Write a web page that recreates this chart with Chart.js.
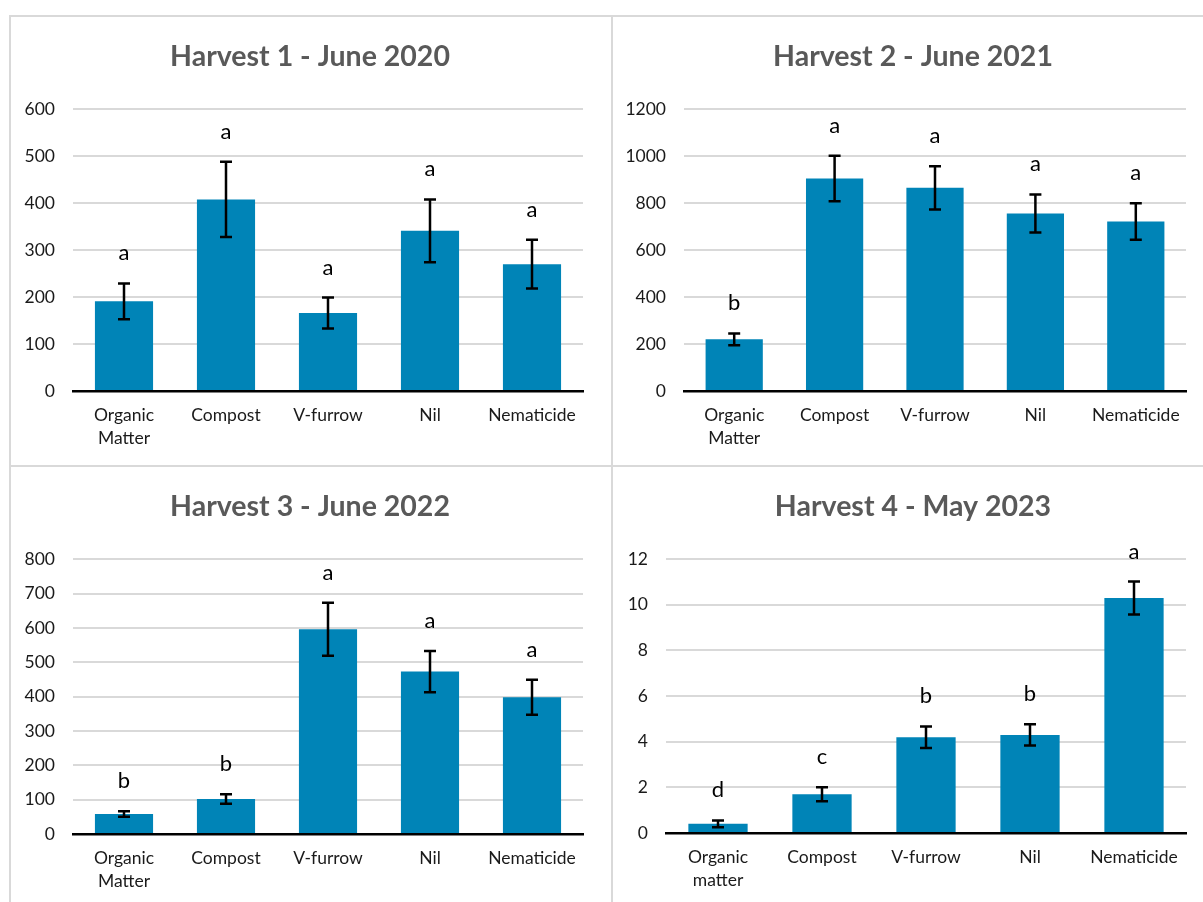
<!DOCTYPE html>
<html>
<head>
<meta charset="utf-8">
<script src="https://cdn.jsdelivr.net/npm/chart.js@4/dist/chart.umd.min.js"></script>
<style>
html,body{margin:0;padding:0;background:#fff;width:1203px;height:902px;overflow:hidden;position:relative;}
canvas{position:absolute;display:block;}
.ln{position:absolute;background:#d9d9d9;}
</style>
</head>
<body>
<canvas id="c1" width="611" height="466" style="left:0;top:0"></canvas>
<canvas id="c2" width="604" height="466" style="left:611px;top:0"></canvas>
<canvas id="c3" width="611" height="443" style="left:0;top:466px"></canvas>
<canvas id="c4" width="604" height="443" style="left:611px;top:466px"></canvas>
<div class="ln" style="left:9px;top:15px;width:1194px;height:2px"></div>
<div class="ln" style="left:9px;top:15px;width:2px;height:887px"></div>
<div class="ln" style="left:611px;top:15px;width:2px;height:887px"></div>
<div class="ln" style="left:9px;top:465px;width:1194px;height:2px"></div>
<script>
// ---- data ----
const categoriesA = [['Organic', 'Matter'], 'Compost', 'V-furrow', 'Nil', 'Nematicide'];
const categoriesB = [['Organic', 'matter'], 'Compost', 'V-furrow', 'Nil', 'Nematicide'];

const title1 = 'Harvest 1 - June 2020';
const values1 = [191, 408, 166, 341, 270];
const errors1 = [38, 80, 33, 67, 52];
const letters1 = ['a', 'a', 'a', 'a', 'a'];
const ticks1 = {max: 600, step: 100};

const title2 = 'Harvest 2 - June 2021';
const values2 = [220, 905, 865, 756, 722];
const errors2 = [25, 97, 92, 81, 78];
const letters2 = ['b', 'a', 'a', 'a', 'a'];
const ticks2 = {max: 1200, step: 200};

const title3 = 'Harvest 3 - June 2022';
const values3 = [58, 102, 596, 473, 398];
const errors3 = [8, 14, 77, 60, 51];
const letters3 = ['b', 'b', 'a', 'a', 'a'];
const ticks3 = {max: 800, step: 100};

const title4 = 'Harvest 4 - May 2023';
const values4 = [0.4, 1.7, 4.2, 4.3, 10.3];
const errors4 = [0.15, 0.31, 0.47, 0.47, 0.72];
const letters4 = ['d', 'c', 'b', 'b', 'a'];
const ticks4 = {max: 12, step: 2};

// ---- style ----
const FONT = 'Lato, "Open Sans", sans-serif';
const BAR = '#0084B7';

const errBars = {
  id: 'errBars',
  afterLayout(chart, args, opts) {
    // centre the title over the whole panel rather than the padded area
    const t = chart.titleBlock;
    if (t) { t.left = opts.titleLeft; t.right = chart.width; t.width = t.right - t.left; }
  },
  afterDatasetsDraw(chart, args, opts) {
    const ctx = chart.ctx;
    const xs = chart.scales.x, ys = chart.scales.y;
    const vals = chart.data.datasets[0].data;
    ctx.save();
    ctx.strokeStyle = '#000';
    ctx.lineWidth = 2.5;
    ctx.lineCap = 'butt';
    vals.forEach((v, i) => {
      const e = opts.errors[i];
      const px = xs.getPixelForValue(i);
      const top = ys.getPixelForValue(v + e);
      const bot = ys.getPixelForValue(v - e);
      ctx.beginPath();
      ctx.moveTo(px, top); ctx.lineTo(px, bot);
      ctx.moveTo(px - 6, top); ctx.lineTo(px + 6, top);
      ctx.moveTo(px - 6, bot); ctx.lineTo(px + 6, bot);
      ctx.stroke();
      ctx.fillStyle = '#000';
      ctx.font = '22px ' + FONT;
      ctx.textAlign = 'center';
      ctx.textBaseline = 'alphabetic';
      ctx.fillText(opts.letters[i], px, top - 23);
    });
    ctx.restore();
  }
};

function makeChart(id, cats, title, values, errors, letters, tk, geo) {
  return new Chart(document.getElementById(id), {
    type: 'bar',
    data: {
      labels: cats,
      datasets: [{data: values, backgroundColor: BAR, borderWidth: 0,
                  barPercentage: 0.57, categoryPercentage: 1.0}]
    },
    options: {
      responsive: false,
      animation: false,
      devicePixelRatio: 1,
      layout: {padding: {left: 10, right: geo.right, top: 0, bottom: geo.bottom}},
      plugins: {
        legend: {display: false},
        tooltip: {enabled: false},
        title: {
          display: true, text: title, color: '#595959',
          font: {family: FONT, size: 28.5, weight: 'bold', lineHeight: 1.2},
          padding: {top: geo.titleTop, bottom: 35}
        },
        errBars: {errors: errors, letters: letters, titleLeft: geo.tl}
      },
      scales: {
        x: {
          grid: {display: false, drawTicks: false},
          border: {display: true, color: '#000', width: 2.5},
          ticks: {color: '#1a1a1a', padding: 13, maxRotation: 0, autoSkip: false,
                  font: {family: FONT, size: 17.5, lineHeight: 1.3}},
          afterFit(s) { s.height = 60; }
        },
        y: {
          min: 0, max: tk.max,
          grid: {color: '#d9d9d9', lineWidth: 2, drawTicks: false},
          border: {display: false},
          ticks: {stepSize: tk.step, color: '#1a1a1a', padding: 18,
                  font: {family: FONT, size: 17.5},
                  callback: (v) => String(v)},
          afterFit(s) { s.width = geo.yw; }
        }
      }
    },
    plugins: [errBars]
  });
}

makeChart('c1', categoriesA, title1, values1, errors1, letters1, ticks1,
  {right: 28, bottom: 15, titleTop: 40, yw: 63, tl: 9});
makeChart('c2', categoriesA, title2, values2, errors2, letters2, ticks2,
  {right: 29, bottom: 15, titleTop: 40, yw: 63, tl: 0});
makeChart('c3', categoriesA, title3, values3, errors3, letters3, ticks3,
  {right: 28, bottom: 15, titleTop: 24, yw: 63, tl: 9});
makeChart('c4', categoriesB, title4, values4, errors4, letters4, ticks4,
  {right: 29, bottom: 16, titleTop: 24, yw: 45, tl: 0});
</script>
</body>
</html>
